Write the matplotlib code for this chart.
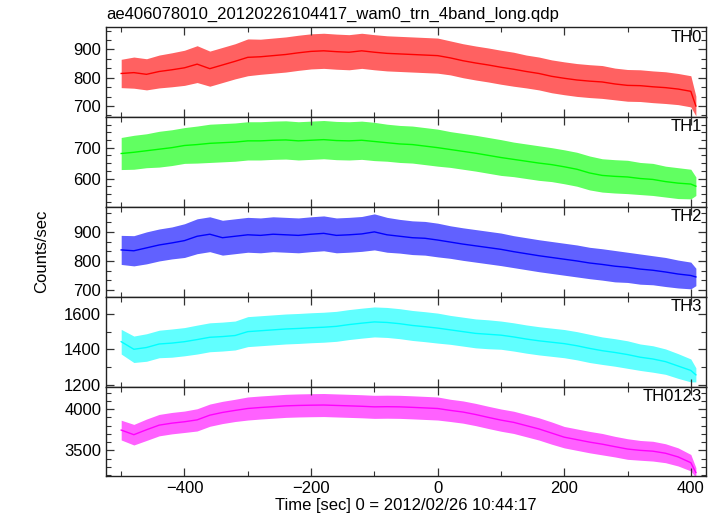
import matplotlib
matplotlib.use("Agg")
import matplotlib.pyplot as plt
from matplotlib.ticker import MultipleLocator, AutoMinorLocator
import numpy as np

plt.rcParams['font.family'] = ['Liberation Sans', 'DejaVu Sans']

title = "ae406078010_20120226104417_wam0_trn_4band_long.qdp"
xlabel = "Time [sec] 0 = 2012/02/26 10:44:17"
ylabel = "Counts/sec"
labels = ["TH0", "TH1", "TH2", "TH3", "TH0123"]
colors = ["#ff0000", "#00ff00", "#0000ff", "#00ffff", "#ff00ff"]

time = [-500, -480, -460, -440, -420, -400, -380, -360, -340, -320, -300, -280,
        -260, -240, -220, -200, -180, -160, -140, -120, -100, -80, -60, -40, -20,
        0, 20, 40, 60, 80, 100, 120, 140, 160, 180, 200, 220, 240, 260, 280, 300,
        320, 340, 360, 380, 400, 408]

th0 = [815, 818, 812, 822, 828, 835, 848, 832, 845, 858, 872, 874, 878, 882, 888,
       893, 895, 892, 890, 895, 890, 886, 884, 882, 880, 878, 870, 860, 852, 845,
       837, 830, 822, 815, 805, 798, 792, 788, 785, 778, 773, 772, 768, 765, 760,
       752, 700]
th0_spread = [50, 55, 55, 58, 60, 62, 65, 62, 62, 62, 65, 62, 62, 62, 62, 62, 62, 62,
              62, 62, 62, 62, 62, 62, 62, 62, 60, 60, 60, 60, 60, 60, 58, 58, 58, 58,
              58, 58, 58, 56, 56, 56, 56, 56, 55, 55, 35]

th1 = [681, 685, 690, 695, 700, 707, 710, 714, 716, 718, 722, 722, 724, 725, 722,
       724, 726, 723, 722, 724, 720, 716, 712, 710, 705, 700, 694, 688, 682, 675,
       668, 662, 656, 650, 645, 638, 630, 618, 610, 607, 605, 600, 597, 590, 585,
       582, 575]
th1_spread = [52, 55, 55, 58, 58, 58, 60, 62, 62, 62, 62, 62, 62, 62, 62, 62, 62, 62,
              62, 62, 62, 60, 60, 60, 60, 60, 58, 58, 58, 58, 58, 56, 56, 56, 55, 55,
              55, 55, 54, 54, 54, 52, 52, 50, 50, 48, 30]

th2 = [838, 835, 845, 855, 862, 870, 885, 892, 880, 885, 890, 888, 892, 890, 888,
       892, 895, 888, 890, 893, 900, 890, 885, 880, 878, 872, 865, 858, 852, 846,
       840, 832, 825, 818, 812, 806, 800, 793, 788, 782, 778, 772, 768, 762, 755,
       750, 745]
th2_spread = [50, 52, 55, 55, 55, 58, 60, 60, 60, 60, 60, 60, 60, 60, 60, 60, 60, 60,
              60, 60, 62, 60, 58, 58, 58, 58, 56, 56, 56, 56, 56, 55, 55, 55, 55, 55,
              55, 54, 54, 54, 52, 52, 50, 50, 48, 46, 30]

th3 = [1443, 1400, 1410, 1430, 1435, 1443, 1455, 1468, 1472, 1478, 1500, 1505, 1510,
       1515, 1518, 1522, 1525, 1530, 1540, 1548, 1555, 1552, 1545, 1535, 1528, 1520,
       1510, 1500, 1490, 1485, 1480, 1470, 1458, 1448, 1440, 1432, 1420, 1405, 1392,
       1382, 1370, 1355, 1345, 1330, 1305, 1280, 1255]
th3_spread = [70, 75, 78, 78, 80, 80, 82, 82, 82, 82, 85, 85, 85, 85, 85, 85, 85, 85,
              85, 85, 85, 85, 85, 85, 85, 85, 82, 82, 82, 82, 80, 80, 80, 80, 80, 80,
              80, 80, 78, 78, 78, 75, 75, 72, 70, 65, 40]

th0123 = [3746, 3690, 3750, 3806, 3830, 3847, 3870, 3927, 3960, 3985, 4008, 4020,
          4030, 4040, 4045, 4048, 4050, 4045, 4040, 4035, 4028, 4030, 4028, 4022,
          4015, 4008, 3985, 3965, 3935, 3900, 3867, 3840, 3800, 3760, 3710, 3660,
          3630, 3600, 3575, 3545, 3516, 3500, 3490, 3465, 3420, 3350, 3230]
th0123_spread = [120, 125, 130, 130, 130, 130, 135, 135, 135, 135, 140, 140, 140, 140,
                 140, 140, 140, 140, 140, 140, 140, 140, 140, 140, 140, 140, 135, 135,
                 135, 135, 135, 135, 135, 135, 135, 130, 130, 130, 130, 125, 125, 120,
                 120, 115, 110, 100, 60]

series = [th0, th1, th2, th3, th0123]
spreads = [th0_spread, th1_spread, th2_spread, th3_spread, th0123_spread]
ylims = [(661, 978), (508, 799), (677, 986), (1189, 1698), (3185, 4275)]
ymajor = [100, 100, 100, 200, 500]
yminor_div = [3, 4, 3, 2, 5]
xlim = (-524, 424)

W, H = 717, 516
fig = plt.figure(figsize=(W / 100, H / 100), dpi=100)
left, right, top, bottom = 106 / W, 706 / W, 1 - 27.3 / H, 1 - 476.3 / H
ph = (top - bottom) / 5
fs = 12

t = np.array(time)
axes = []
for i in range(5):
    ax = fig.add_axes([left, top - (i + 1) * ph, right - left, ph])
    axes.append(ax)
    mid = np.array(series[i])
    sp = np.array(spreads[i])
    ax.fill_between(t, mid - sp, mid + sp, color=colors[i], alpha=0.62, lw=0)
    ax.plot(t, mid, color=colors[i], lw=1.0)
    ax.set_xlim(*xlim)
    ax.set_ylim(*ylims[i])
    ax.xaxis.set_major_locator(MultipleLocator(200))
    ax.xaxis.set_minor_locator(MultipleLocator(100))
    ax.yaxis.set_major_locator(MultipleLocator(ymajor[i]))
    ax.yaxis.set_minor_locator(AutoMinorLocator(yminor_div[i]))
    ax.tick_params(which='both', direction='in', top=True, right=True,
                   color='#333333', labelsize=fs)
    ax.tick_params(which='major', length=6, width=0.9)
    ax.tick_params(which='minor', length=3.5, width=0.8)
    for s in ax.spines.values():
        s.set_linewidth(1.0)
        s.set_color('#222222')
    ax.text(0.993, 0.975, labels[i], transform=ax.transAxes, ha='right', va='top',
            fontsize=fs)
    if i < 4:
        ax.tick_params(labelbottom=False)
    ax.set_yticks([v for v in ax.get_yticks() if ylims[i][0] <= v <= ylims[i][1]])

axes[-1].set_xlabel(xlabel, fontsize=fs, labelpad=1)
fig.text(left + 0.001, 1 - 14 / H, title, ha='left', va='center', fontsize=fs)
fig.text(42 / W, 1 - 251.8 / H, ylabel, rotation=90, ha='center', va='center',
         fontsize=fs)

fig.savefig("out.png", dpi=100)
